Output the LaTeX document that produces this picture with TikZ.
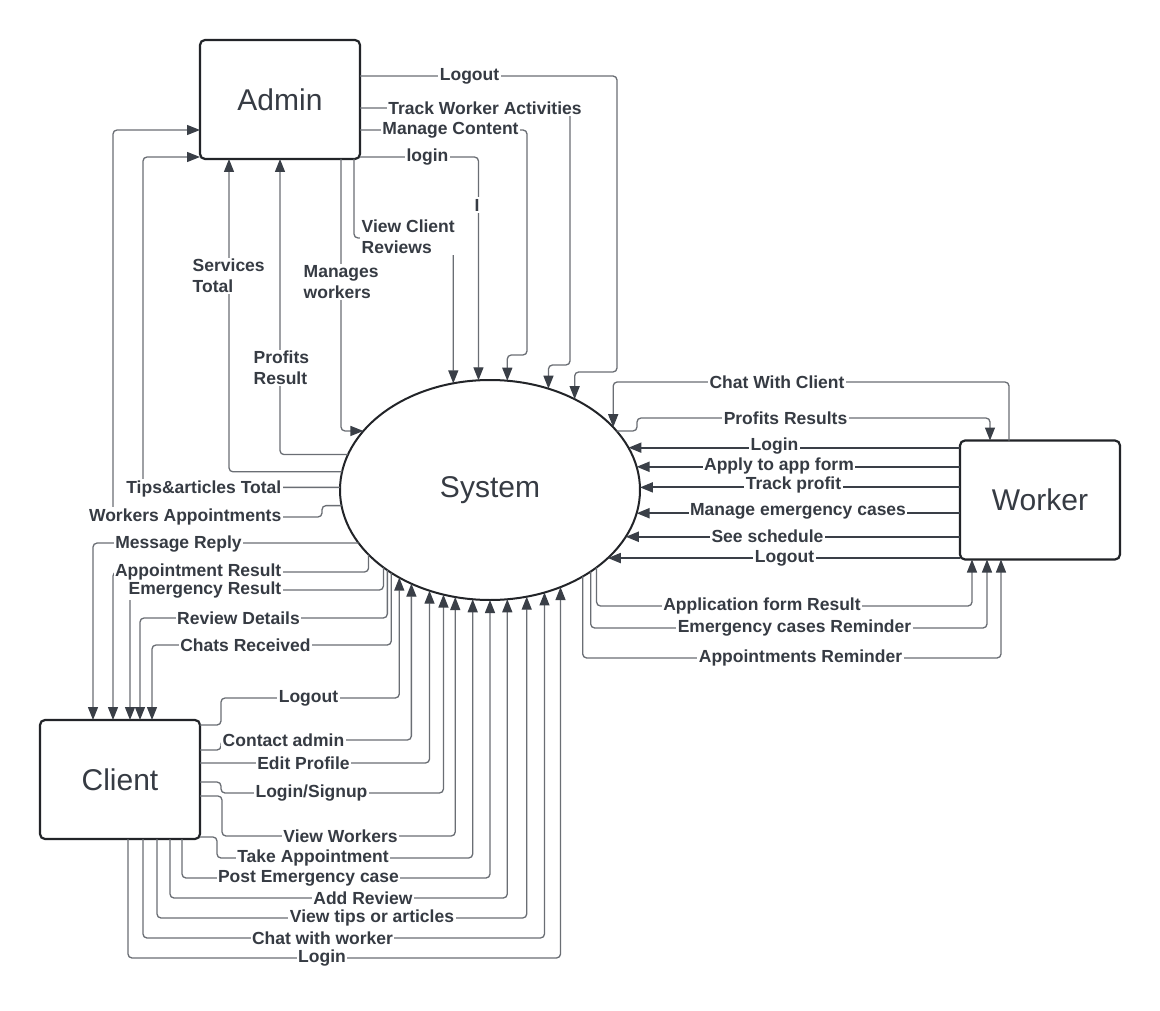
\documentclass[tikz,border=0pt]{standalone}
\usepackage{fontspec}
\setmainfont{Liberation Sans}
\usetikzlibrary{arrows.meta,shapes.geometric}
\definecolor{txt}{HTML}{363B43}
\definecolor{wire}{HTML}{6A6E74}
\definecolor{tipc}{HTML}{3A3F47}
\definecolor{boxline}{HTML}{222428}
\tikzset{
  entity/.style={draw=boxline, line width=2.2pt, rounded corners=5pt, minimum width=160pt,
    minimum height=119pt, inner sep=0pt, outer sep=0pt, text=txt, font=\fontsize{30}{36}\selectfont},
  process/.style={ellipse, draw=boxline, line width=2pt, minimum width=300pt, minimum height=220pt,
    inner sep=0pt, outer sep=0pt, text=txt, font=\fontsize{30}{36}\selectfont},
  flow/.style={draw=wire, line width=1.3pt, rounded corners=4pt, -{Triangle[length=13pt,width=10pt,color=tipc]}},
  heavy/.style={flow, draw=tipc, line width=2pt},
  lbl/.style={fill=white, inner sep=1.5pt, text=txt, font=\bfseries\fontsize{17.5}{21}\selectfont},
}
\begin{document}
\begin{tikzpicture}[x=1pt, y=-1pt]
    \useasboundingbox[fill=white] (0,0) rectangle (1160,1011);
    % entities and the process
    \node[entity] (adm) at (280,99.5) {Admin};
    \node[entity] (wrk) at (1040,500) {Worker};
    \node[entity] (cli) at (120,779.5) {Client};
    \node[process] (sys) at (490,490) {System};

    % admin -> system
    \draw[flow] (adm.east |- 0,76) -| (617,372) -| (sys.47.8);
    \draw[flow] (adm.east |- 0,108) -| (570,365) -| (sys.60.7);
    \draw[flow] (adm.east |- 0,130) -| (527,355) -| (sys.81.2);
    \draw[flow] (adm.east |- 0,157) -| (sys.96.8);
    \draw[flow] (354,0 |- adm.south) |- (sys.109.1 |- 0,238) -- (sys.109.1);
    \draw[flow] (341,0 |- adm.south) |- (sys.155.5);
    % system -> admin
    \draw[flow] (sys.173.5) -| (229,0 |- adm.south);
    \draw[flow] (sys.166.2) -| (280,0 |- adm.south);
    \draw[flow] (sys.179.6) -| (143,157) -- (adm.west |- 0,157);
    \draw[flow] (sys.186.9) -| (322,517) -| (113,130) -- (adm.west |- 0,130);

    % system -> client
    \draw[flow] (sys.202.5) -| (93,0 |- cli.north);
    \draw[flow] (sys.208.8) |- (113,572) -- (113,0 |- cli.north);
    \draw[flow] (sys.216.8) |- (130,590) -- (130,0 |- cli.north);
    \draw[flow] (sys.218.8) |- (140,618) -- (140,0 |- cli.north);
    \draw[flow] (sys.220.9) |- (152,645) -- (152,0 |- cli.north);
    % client -> system
    \draw[flow] (cli.east |- 0,725) -| (221,698) -| (sys.224.4);
    \draw[flow] (cli.east |- 0,750) -| (221,740) -| (sys.230.3);
    \draw[flow] (cli.east |- 0,763) -| (sys.239.2);
    \draw[flow] (cli.east |- 0,782) -| (221,793) -| (sys.246.3);
    \draw[flow] (cli.east |- 0,796) -| (222,836) -| (sys.252.4);
    \draw[flow] (cli.east |- 0,837) -| (217,858) -| (sys.261.7);
    \draw[flow] (182,0 |- cli.south) |- (sys.270 |- 0,878) -- (sys.270);
    \draw[flow] (170,0 |- cli.south) |- (sys.279.4 |- 0,898) -- (sys.279.4);
    \draw[flow] (157,0 |- cli.south) |- (sys.289.1 |- 0,918) -- (sys.289.1);
    \draw[flow] (143,0 |- cli.south) |- (sys.298.8 |- 0,938) -- (sys.298.8);
    \draw[flow] (128,0 |- cli.south) |- (sys.306.2 |- 0,958) -- (sys.306.2);

    % worker <-> system
    \draw[flow] (1009,0 |- wrk.north) |- (sys.27.7 |- 0,382) -- (sys.27.7);
    \draw[flow] (sys.25) -| (637,418) -| (990,0 |- wrk.north);
    \draw[heavy] (wrk.west |- sys.17.7) -- (sys.17.7);
    \draw[heavy] (wrk.west |- sys.9.3) -- (sys.9.3);
    \draw[heavy] (wrk.west |- sys.1.9) -- (sys.1.9);
    \draw[heavy] (wrk.west |- sys.351.9) -- (sys.351.9);
    \draw[heavy] (wrk.west |- sys.341.4) -- (sys.341.4);
    \draw[heavy] (wrk.west |- sys.330) -- (sys.330);
    \draw[flow] (sys.324.8) |- (972,606) -- (972,0 |- wrk.south);
    \draw[flow] (sys.321.2) |- (987,628) -- (987,0 |- wrk.south);
    \draw[flow] (sys.317.6) |- (1001,658) -- (1001,0 |- wrk.south);

    % labels
    \node[lbl] (aLogout) at (469.5,76) {Logout};
    \node[lbl] (aTrack) at (485,108) {Track Worker Activities};
    \node[lbl] (aContent) at (450.5,130) {Manage Content};
    \node[lbl] (aLogin) at (427.5,157) {login};
    \node[lbl] (aBar) at (477,205) {I};
    \node[lbl, align=left, anchor=west] (aReviews) at (360,237) {View Client\\Reviews};
    \node[lbl, align=left, anchor=west] (aWorkers) at (302,282) {Manages\\workers};
    \node[lbl, align=left, anchor=west] (aServices) at (191,276) {Services\\Total};
    \node[lbl, align=left, anchor=west] (aProfits) at (252,368) {Profits\\Result};
    \node[lbl, anchor=east] (aTips) at (283,489) {Tips\&articles Total};
    \node[lbl, anchor=east] (aAppts) at (283,517) {Workers Appointments};

    \node[lbl] (cReply) at (178.5,544) {Message Reply};
    \node[lbl, anchor=east] (cAppt) at (283,572) {Appointment Result};
    \node[lbl, anchor=east] (cEmerg) at (283,590) {Emergency Result};
    \node[lbl] (cReview) at (238.5,618) {Review Details};
    \node[lbl] (cChats) at (245.5,645) {Chats Received};
    \node[lbl] (cLogout) at (308.5,698) {Logout};
    \node[lbl] (cContact) at (283.5,740) {Contact admin};
    \node[lbl] (cEdit) at (303.5,763) {Edit Profile};
    \node[lbl] (cSign) at (311.5,793) {Login/Signup};
    \node[lbl] (cView) at (340.5,836) {View Workers};
    \node[lbl] (cTake) at (313,858) {Take Appointment};
    \node[lbl] (cPost) at (308.5,878) {Post Emergency case};
    \node[lbl] (cAdd) at (363,898) {Add Review};
    \node[lbl] (cTips) at (372,918) {View tips or articles};
    \node[lbl] (cChatW) at (322.5,938) {Chat with worker};
    \node[lbl] (cLogin) at (322,958) {Login};

    \node[lbl] (wChat) at (777,382) {Chat With Client};
    \node[lbl] (wProfit) at (785.5,418) {Profits Results};
    \node[lbl] (wLogin) at (774.5,446) {Login};
    \node[lbl] (wApply) at (779,466) {Apply to app form};
    \node[lbl] (wTrack) at (793.5,485) {Track profit};
    \node[lbl] (wEmerg) at (798,511) {Manage emergency cases};
    \node[lbl] (wSched) at (767.5,536) {See schedule};
    \node[lbl] (wLogout) at (784.5,558) {Logout};
    \node[lbl] (wForm) at (762,606) {Application form Result};
    \node[lbl] (wRemind) at (794.5,628) {Emergency cases Reminder};
    \node[lbl] (wAppts) at (800.5,658) {Appointments Reminder};
\end{tikzpicture}
\end{document}
